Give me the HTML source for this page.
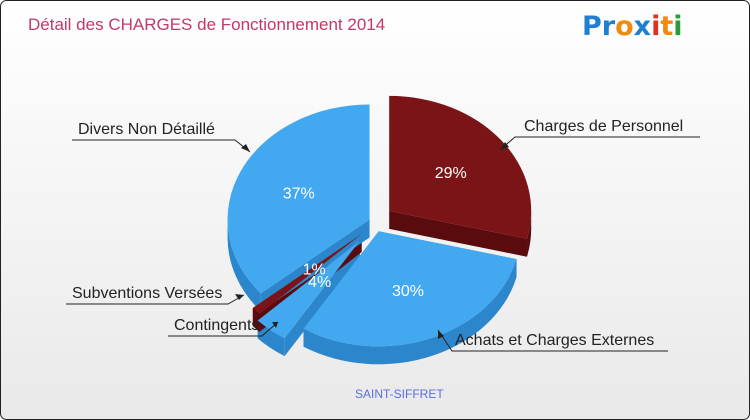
<!DOCTYPE html><html><head><style>body{margin:0}svg{display:block}</style></head><body>
<svg id="s" width="750" height="420" xmlns="http://www.w3.org/2000/svg" font-family="Liberation Sans, sans-serif">
<defs><linearGradient id="bg" x1="0" y1="0" x2="0" y2="1"><stop offset="0" stop-color="#ffffff"/><stop offset="1" stop-color="#e9e9e9"/></linearGradient></defs>
<rect x="0.5" y="0.5" width="749" height="419" rx="6" fill="url(#bg)" stroke="#222"/>
<text x="28" y="30" font-size="17" fill="#c2386a">Détail des CHARGES de Fonctionnement 2014</text>
<text x="582" y="35" font-size="27" font-weight="bold" font-family="DejaVu Sans, sans-serif"><tspan fill="#1f7fd0">Pr</tspan><tspan fill="#f08a10">o</tspan><tspan fill="#1f7fd0">x</tspan><tspan fill="#e03020">i</tspan><tspan fill="#f08a10">t</tspan><tspan fill="#2a9a3a">i</tspan></text>
<g id="pie"></g>
<g font-size="16" fill="#222">
<text x="78" y="134">Divers Non Détaillé</text>
<text x="524" y="131">Charges de Personnel</text>
<text x="72" y="298">Subventions Versées</text>
<text x="174" y="330">Contingents</text>
<text x="455" y="345">Achats et Charges Externes</text>
</g>
<g stroke="#222" fill="none" stroke-width="1">
<polyline points="72,140 235,140 250,152"/><polyline points="700,137 515,137 500,150"/>
<polyline points="66,304 228,304 244,295"/><polyline points="168,336 262,336 278,322"/>
<polyline points="668,351 452,351 438,330"/>
</g>
<g fill="#222"><polygon points="250,152 241,148 246,144"/><polygon points="500,150 505,142 509,147"/><polygon points="244,295 235,294 239,300"/><polygon points="278,322 272,322 276,328"/><polygon points="438,330 438,339 444,336"/></g>
<text x="355" y="398" font-size="12" fill="#5a6ee0">SAINT-SIFFRET</text>
</svg>
<script>
var cx=375,cy=222,rx=142,ry=115,d=18;
var sl=[[0,104,'#7b1416','#5a0b0d',18,'29%'],[104,212,'#42a8f0','#2c86cc',10,'30%'],[212,226,'#42a8f0','#2c86cc',24,'4%'],[226,230,'#7b1416','#5a0b0d',18,'1%'],[230,360,'#42a8f0','#2c86cc',6,'37%']];
function P(a,ox,oy){a=a*Math.PI/180;return [cx+ox+rx*Math.sin(a),cy+oy-ry*Math.cos(a)];}
var g=document.getElementById('pie'),sides='',tops='',txt='';
sl.forEach(function(s){var m=(s[0]+s[1])/2*Math.PI/180,ox=s[4]*Math.sin(m),oy=-s[4]*Math.cos(m);
var c=[cx+ox,cy+oy];
[s[0],s[1]].forEach(function(a){var p=P(a,ox,oy);sides+='<path d="M'+c+' L'+p+' L'+[p[0],p[1]+d]+' L'+[c[0],c[1]+d]+'Z" fill="'+s[3]+'"/>';});
var a1=Math.max(s[0],90),a2=Math.min(s[1],270);
if(a2>a1){var p1=P(a1,ox,oy),p2=P(a2,ox,oy);sides+='<path d="M'+p1+' A'+rx+' '+ry+' 0 0 1 '+p2+' L'+[p2[0],p2[1]+d]+' A'+rx+' '+ry+' 0 0 0 '+[p1[0],p1[1]+d]+'Z" fill="'+s[3]+'"/>';}
var q1=P(s[0],ox,oy),q2=P(s[1],ox,oy);
tops+='<path d="M'+c+' L'+q1+' A'+rx+' '+ry+' 0 '+((s[1]-s[0])>180?1:0)+' 1 '+q2+'Z" fill="'+s[2]+'"/>';
var r=s[1]-s[0]<20?0.45:0.55,t=[c[0]+rx*r*Math.sin(m),c[1]-ry*r*Math.cos(m)];
txt+='<text x="'+t[0]+'" y="'+(t[1]+6)+'" font-size="16" fill="#fff" text-anchor="middle">'+s[5]+'</text>';});
g.innerHTML=sides+tops+txt;
</script>
</body></html>
